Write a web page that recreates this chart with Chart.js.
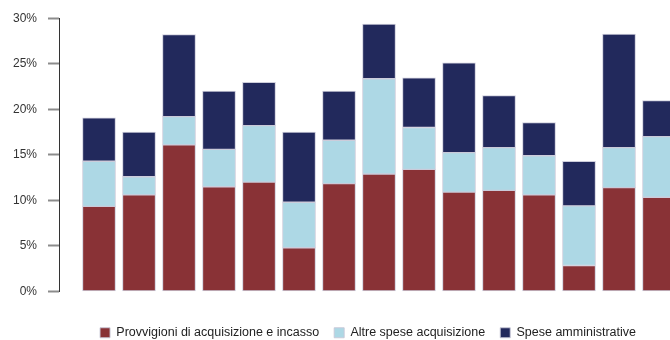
<!DOCTYPE html>
<html>
<head>
<meta charset="utf-8">
<script src="https://cdn.jsdelivr.net/npm/chart.js@4/dist/chart.umd.min.js"></script>
<style>
    html, body { margin: 0; padding: 0; background: #ffffff; overflow: hidden; }
    #wrap { width: 670px; height: 340px; overflow: hidden; }
</style>
</head>
<body>
<div id="wrap">
    <canvas id="costChart" width="736" height="349"></canvas>
</div>
<script>
// bar slots (no labels shown on the x axis)
const categories = [1, 2, 3, 4, 5, 6, 7, 8, 9, 10, 11, 12, 13, 14, 15];

// values in percent, stacked bottom to top
const provvigioni = [9.35, 10.6, 16.1, 11.5, 12.0, 4.8, 11.85, 12.9, 13.4, 10.9, 11.1, 10.6, 2.85, 11.4, 10.35];
const altreSpese  = [4.95, 2.0, 3.1, 4.1, 6.2, 5.0, 4.75, 10.45, 4.6, 4.35, 4.7, 4.3, 6.55, 4.4, 6.65];
const speseAmm    = [4.75, 4.9, 9.0, 6.4, 4.75, 7.7, 5.4, 6.0, 5.45, 9.85, 5.7, 3.65, 4.9, 12.45, 3.95];

const yTicks = [0, 5, 10, 15, 20, 25, 30];

const seriesNames = ['Provvigioni di acquisizione e incasso', 'Altre spese acquisizione', 'Spese amministrative'];
const seriesColors = ['#893236', '#add8e5', '#22295c'];

function toPoints(values) {
    return values.map((v, i) => ({ x: categories[i], y: v }));
}

const datasets = [provvigioni, altreSpese, speseAmm].map((values, i) => ({
    label: seriesNames[i],
    data: toPoints(values),
    backgroundColor: seriesColors[i],
    borderColor: 'rgba(200, 200, 215, 0.9)',
    borderWidth: 1,
    borderSkipped: false,
    barThickness: 33
}));

new Chart(document.getElementById('costChart'), {
    type: 'bar',
    data: { datasets: datasets },
    options: {
        responsive: false,
        animation: false,
        layout: { padding: { top: 16, left: 0, right: 0, bottom: 0 } },
        plugins: {
            tooltip: { enabled: false },
            legend: {
                position: 'bottom',
                labels: {
                    boxWidth: 10,
                    boxHeight: 10,
                    padding: 15,
                    color: '#222222',
                    font: { family: '"Liberation Sans", Arial, sans-serif', size: 12.5 }
                }
            }
        },
        scales: {
            x: {
                type: 'linear',
                stacked: true,
                offset: false,
                min: 0,
                max: 16.925,
                ticks: { display: false },
                grid: { display: false },
                border: { display: false },
                afterFit: (scale) => { scale.height = 20; }
            },
            y: {
                stacked: true,
                min: 0,
                max: 30,
                afterBuildTicks: (scale) => { scale.ticks = yTicks.map(v => ({ value: v })); },
                afterFit: (scale) => { scale.width = 59; },
                ticks: {
                    padding: 11,
                    color: '#333333',
                    font: { family: '"Liberation Sans", Arial, sans-serif', size: 12 },
                    callback: (v) => v + '%'
                },
                grid: {
                    drawOnChartArea: false,
                    tickLength: 11,
                    tickColor: '#8c8c8c',
                    tickWidth: 2
                },
                border: { display: true, color: '#333333', width: 1 }
            }
        }
    }
});
</script>
</body>
</html>
